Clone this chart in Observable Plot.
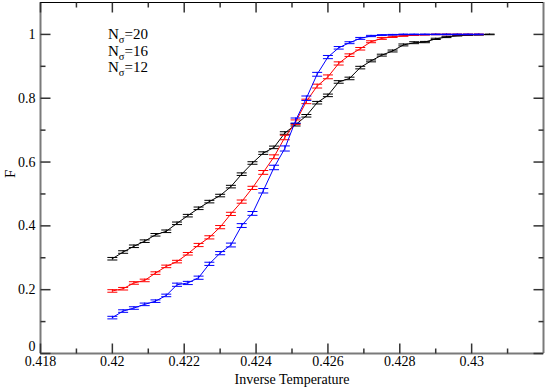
<!DOCTYPE html>
<html>
<head>
<meta charset="utf-8">
<script src="https://cdn.jsdelivr.net/npm/d3@7"></script>
<script src="https://cdn.jsdelivr.net/npm/@observablehq/plot@0.6"></script>
<style>
  html, body { margin: 0; padding: 0; background: white; }
</style>
</head>
<body>
<div id="chart"></div>
<script>
// ---- data ----
const betas = [0.4200,0.4203,0.4206,0.4209,0.4212,0.4215,0.4218,0.4221,0.4224,0.4227,
               0.4230,0.4233,0.4236,0.4239,0.4242,0.4245,0.4248,0.4251,0.4254,0.4257,
               0.4260,0.4263,0.4266,0.4269,0.4272,0.4275,0.4278,0.4281,0.4284,0.4287,
               0.4290,0.4293,0.4296,0.4299,0.4302,0.4305];

const f12 = [0.297,0.318,0.336,0.352,0.372,0.383,0.408,0.432,0.455,0.476,
             0.495,0.523,0.562,0.597,0.628,0.646,0.691,0.717,0.745,0.786,
             0.809,0.851,0.862,0.896,0.917,0.935,0.948,0.967,0.974,0.976,
             0.986,0.992,0.996,0.998,0.999,1.000];
const e12 = [0.004,0.004,0.004,0.004,0.004,0.004,0.004,0.004,0.004,0.004,
             0.004,0.004,0.004,0.004,0.004,0.004,0.004,0.004,0.004,0.004,
             0.004,0.004,0.004,0.004,0.003,0.003,0.003,0.003,0.003,0.002,
             0.002,0.002,0.001,0.001,0.001,0.001];

const f16 = [0.196,0.203,0.221,0.229,0.252,0.273,0.288,0.3125,0.340,0.364,
             0.396,0.4375,0.476,0.519,0.5675,0.6165,0.677,0.725,0.790,0.838,
             0.867,0.909,0.935,0.955,0.977,0.9875,0.9925,0.996,0.998,0.999,
             1.000,1.000,1.000,1.000,1.000];
const e16 = [0.004,0.004,0.004,0.004,0.004,0.004,0.004,0.004,0.005,0.005,
             0.005,0.005,0.005,0.005,0.006,0.006,0.007,0.007,0.007,0.006,
             0.006,0.005,0.004,0.004,0.003,0.003,0.002,0.002,0.001,0.001,
             0.001,0.001,0.001,0.001,0.001];

const f20 = [0.1125,0.133,0.1425,0.154,0.164,0.182,0.2155,0.221,0.2375,0.281,
             0.3145,0.340,0.401,0.439,0.510,0.583,0.6425,0.730,0.800,0.875,
             0.929,0.958,0.974,0.9875,0.995,0.998,0.999,1.000,1.000,1.000,
             1.000,1.000,1.000,1.000,1.000];
const e20 = [0.004,0.004,0.004,0.004,0.004,0.004,0.005,0.005,0.005,0.005,
             0.005,0.006,0.006,0.006,0.007,0.007,0.008,0.008,0.007,0.006,
             0.005,0.004,0.003,0.003,0.002,0.001,0.001,0.001,0.001,0.001,
             0.001,0.001,0.001,0.001,0.001];

const seriesNames = ["N\u03c3=12", "N\u03c3=16", "N\u03c3=20"];
const seriesColors = ["#000000", "#ff0000", "#0000ff"];
const seriesValues = [f12, f16, f20];
const seriesErrors = [e12, e16, e20];

const xMajor = [0.418,0.420,0.422,0.424,0.426,0.428,0.430];
const xMinor = [0.419,0.421,0.423,0.425,0.427,0.429,0.431];
const yMajor = [0,0.2,0.4,0.6,0.8,1];
const yMinor = [0.1,0.3,0.5,0.7,0.9];

// ---- build rows ----
const rows = [];
seriesValues.forEach((vals, s) => {
  vals.forEach((v, i) => rows.push({s, x: betas[i], y: v, e: seriesErrors[s][i]}));
});

const serif = "'Liberation Serif', 'Times New Roman', serif";
// custom symbols
const seg = (x0, y0, x1, y1) => ({draw(ctx) { ctx.moveTo(x0, y0); ctx.lineTo(x1, y1); }});
const cap = seg(-5, 0, 5, 0);

const tickColor = "#333";
const frameColor = "#7a7a7a";

const marks = [];
// frame
marks.push(Plot.ruleX([0.418], {stroke: frameColor, strokeWidth: 2}));
marks.push(Plot.ruleX([0.432], {stroke: frameColor, strokeWidth: 2}));
marks.push(Plot.ruleY([0], {stroke: frameColor, strokeWidth: 2}));
marks.push(Plot.ruleY([1.1], {stroke: "#000", strokeWidth: 1}));
// inward ticks
marks.push(Plot.dot(xMajor, {x: d => d, frameAnchor: "bottom", symbol: seg(0,0,0,-10), stroke: tickColor, fill: "none"}));
marks.push(Plot.dot(xMinor, {x: d => d, frameAnchor: "bottom", symbol: seg(0,0,0,-5), stroke: tickColor, fill: "none"}));
marks.push(Plot.dot(xMajor, {x: d => d, frameAnchor: "top", symbol: seg(0,0,0,10), stroke: tickColor, fill: "none"}));
marks.push(Plot.dot(xMinor, {x: d => d, frameAnchor: "top", symbol: seg(0,0,0,5), stroke: tickColor, fill: "none"}));
marks.push(Plot.dot(yMajor, {y: d => d, frameAnchor: "left", symbol: seg(0,0,10,0), stroke: tickColor, fill: "none"}));
marks.push(Plot.dot(yMinor, {y: d => d, frameAnchor: "left", symbol: seg(0,0,5,0), stroke: tickColor, fill: "none"}));
marks.push(Plot.dot(yMajor, {y: d => d, frameAnchor: "right", symbol: seg(0,0,-10,0), stroke: tickColor, fill: "none"}));
marks.push(Plot.dot(yMinor, {y: d => d, frameAnchor: "right", symbol: seg(0,0,-5,0), stroke: tickColor, fill: "none"}));
// tick labels
marks.push(Plot.text(xMajor, {x: d => d, frameAnchor: "bottom", lineAnchor: "top", dy: 3,
  text: d => String(+d.toFixed(3)), fontSize: 14, fontFamily: serif, fill: "#000"}));
marks.push(Plot.text(yMajor, {y: d => d, frameAnchor: "left", textAnchor: "end", dx: -5,
  text: d => String(+d.toFixed(1)), fontSize: 14, fontFamily: serif, fill: "#000",
  filter: d => d > 0}));
marks.push(Plot.text([0], {y: d => d, frameAnchor: "left", textAnchor: "end", dx: -5, dy: -7,
  text: d => String(d), fontSize: 14, fontFamily: serif, fill: "#000"}));
marks.push(Plot.text(["Inverse Temperature"], {frameAnchor: "bottom", dy: 30, fontSize: 14, fontFamily: serif, fill: "#000"}));
marks.push(Plot.text(["F"], {frameAnchor: "left", dx: -30, rotate: -90, fontSize: 15, fontFamily: serif, fill: "#000"}));

// series
[0, 1, 2].forEach(s => {
  const d = rows.filter(r => r.s === s);
  const c = seriesColors[s];
  marks.push(Plot.line(d, {x: "x", y: "y", stroke: c, strokeWidth: 1}));
  marks.push(Plot.ruleX(d, {x: "x", y1: r => r.y - r.e, y2: r => r.y + r.e, stroke: c, strokeWidth: 1}));
  marks.push(Plot.dot(d, {x: "x", y: r => r.y + r.e, symbol: cap, stroke: c, fill: "none", strokeWidth: 1}));
  marks.push(Plot.dot(d, {x: "x", y: r => r.y - r.e, symbol: cap, stroke: c, fill: "none", strokeWidth: 1}));
});

const svg = Plot.plot({
  width: 545,
  height: 390,
  marginLeft: 40,
  marginRight: 2,
  marginTop: 2,
  marginBottom: 37,
  x: {domain: [0.418, 0.432], axis: null},
  y: {domain: [0, 1.1], axis: null},
  style: {fontFamily: serif, fontSize: "14px", background: "white", color: "#000"},
  marks
});

// legend (text only, as in the reference)
const g = d3.select(svg).append("g")
  .attr("font-family", serif)
  .attr("text-anchor", "start")
  .attr("fill", "#000");
[2, 1, 0].forEach((s, i) => {
  const name = seriesNames[s];
  const num = name.split("=")[1];
  const t = g.append("text").attr("x", 108).attr("y", 39 + i * 16.5).attr("font-size", 15);
  t.append("tspan").text("N");
  t.append("tspan").attr("dy", 4).attr("font-size", 10.5).text("\u03c3");
  t.append("tspan").attr("dy", -4).text("=" + num);
});

document.getElementById("chart").appendChild(svg);
</script>
</body>
</html>
